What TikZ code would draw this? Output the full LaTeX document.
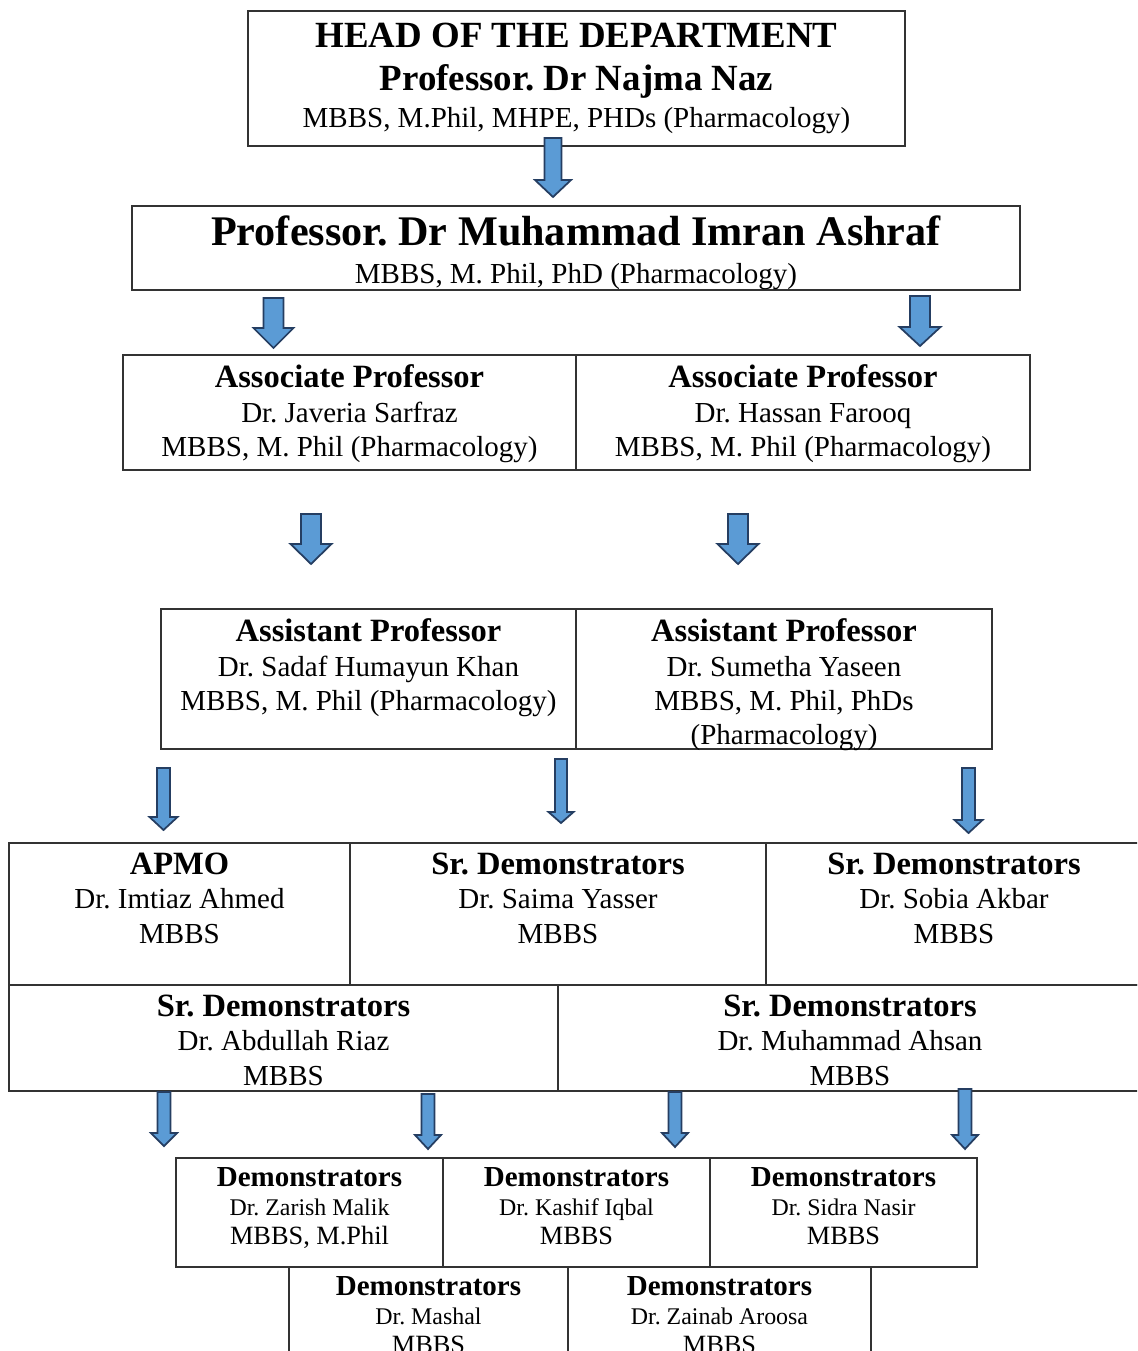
\documentclass[tikz,border=0pt]{standalone}
\usepackage{fontspec}
\setmainfont{Liberation Serif}
\usetikzlibrary{positioning,fit}
\frenchspacing
\definecolor{arrowfill}{RGB}{91,155,213}
\definecolor{arrowline}{RGB}{37,62,98}
\tikzstyle{cell} = [rectangle, draw=black!80, line width=0.7pt, inner sep=0pt]
\tikzstyle{txt} = [align=center, inner sep=0pt, font=\fontsize{16.5}{19.6}\selectfont]
\tikzstyle{smalltxt} = [align=center, inner sep=0pt, font=\fontsize{13.6}{16.4}\selectfont]
\tikzstyle{blockarrow} = [draw=arrowline, fill=arrowfill, line width=1pt, line join=miter]
\tikzset{pics/down/.style n args={4}{code={
  \path[blockarrow] (-#1,0) -- (#1,0) -- (#1,#3) -- (#2,#3) -- (0,#4) -- (-#2,#3) -- (-#1,#3) -- cycle;}}}
\newcommand{\rolehead}[1]{{\fontsize{18.5}{19.6}\selectfont\bfseries #1}}
\newcommand{\demhead}[1]{{\fontsize{16.5}{16.4}\selectfont\bfseries #1}}
\newcommand{\demdeg}[1]{{\fontsize{15}{16.4}\selectfont #1}}

\begin{document}
\begin{tikzpicture}[x=0.02cm, y=-0.02cm]
      \clip (0,0) rectangle (1137,1351);
      \fill[white] (0,0) rectangle (1137,1351);
      % Head of department
      \node [cell, fit={(248,11) (905,146)}] (hod) {};
      \node [txt, font=\fontsize{16.5}{21.5}\selectfont, below=0.24cm of hod.north] (hod-t)
        {{\fontsize{21}{21.5}\selectfont\bfseries HEAD OF THE DEPARTMENT}\\[3pt]
         {\fontsize{21}{21.5}\selectfont\bfseries Professor. Dr Najma Naz}\\
         MBBS, M.Phil, MHPE, PHDs (Pharmacology)};
      % Professor
      \node [cell, fit={(132,206) (1020,290)}] (prof) {};
      \node [txt, font=\fontsize{16.5}{21.8}\selectfont, below=0.2cm of prof.north] (prof-t)
        {{\fontsize{24}{21.8}\selectfont\bfseries Professor. Dr Muhammad Imran Ashraf}\\
         MBBS, M. Phil, PhD (Pharmacology)};
      % Associate professors
      \node [cell, fit={(123,355) (576,470)}] (assoc-a) {};
      \node [cell, fit={(576,355) (1030,470)}] (assoc-b) {};
      \node [txt, below=0.2cm of assoc-a.north] (assoc-a-t)
        {\rolehead{Associate Professor}\\ Dr. Javeria Sarfraz\\ MBBS, M. Phil (Pharmacology)};
      \node [txt, below=0.2cm of assoc-b.north] (assoc-b-t)
        {\rolehead{Associate Professor}\\ Dr. Hassan Farooq\\ MBBS, M. Phil (Pharmacology)};
      % Assistant professors
      \node [cell, fit={(161,609) (576,749)}] (asst-a) {};
      \node [cell, fit={(576,609) (992,749)}] (asst-b) {};
      \node [txt, below=0.2cm of asst-a.north] (asst-a-t)
        {\rolehead{Assistant Professor}\\ Dr. Sadaf Humayun Khan\\ MBBS, M. Phil (Pharmacology)};
      \node [txt, below=0.2cm of asst-b.north] (asst-b-t)
        {\rolehead{Assistant Professor}\\ Dr. Sumetha Yaseen\\ MBBS, M. Phil, PhDs\\ (Pharmacology)};
      % APMO and senior demonstrators
      \node [cell, fit={(9,843) (350,985)}] (apmo) {};
      \node [cell, fit={(350,843) (766,985)}] (srdem-a) {};
      \node [cell, fit={(766,843) (1142,985)}] (srdem-b) {};
      \node [cell, fit={(9,985) (558,1091)}] (srdem-c) {};
      \node [cell, fit={(558,985) (1142,1091)}] (srdem-d) {};
      \node [txt, below=0.2cm of apmo.north] (apmo-t)
        {\rolehead{APMO}\\ Dr. Imtiaz Ahmed\\ MBBS};
      \node [txt, below=0.2cm of srdem-a.north] (srdem-a-t)
        {\rolehead{Sr. Demonstrators}\\ Dr. Saima Yasser\\ MBBS};
      \node [txt, below=0.2cm of srdem-b.north] (srdem-b-t)
        {\rolehead{Sr. Demonstrators}\\ Dr. Sobia Akbar\\ MBBS};
      \node [txt, below=0.2cm of srdem-c.north] (srdem-c-t)
        {\rolehead{Sr. Demonstrators}\\ Dr. Abdullah Riaz\\ MBBS};
      \node [txt, below=0.2cm of srdem-d.north] (srdem-d-t)
        {\rolehead{Sr. Demonstrators}\\ Dr. Muhammad Ahsan\\ MBBS};
      % Demonstrators
      \node [cell, fit={(176,1158) (443,1267)}] (dem-a) {};
      \node [cell, fit={(443,1158) (710,1267)}] (dem-b) {};
      \node [cell, fit={(710,1158) (977,1267)}] (dem-c) {};
      \node [cell, fit={(289,1267) (568,1400)}] (dem-d) {};
      \node [cell, fit={(568,1267) (871,1400)}] (dem-e) {};
      \node [smalltxt, below=0.2cm of dem-a.north] (dem-a-t)
        {\demhead{Demonstrators}\\ Dr. Zarish Malik\\ \demdeg{MBBS, M.Phil}};
      \node [smalltxt, below=0.2cm of dem-b.north] (dem-b-t)
        {\demhead{Demonstrators}\\ Dr. Kashif Iqbal\\ \demdeg{MBBS}};
      \node [smalltxt, below=0.2cm of dem-c.north] (dem-c-t)
        {\demhead{Demonstrators}\\ Dr. Sidra Nasir\\ \demdeg{MBBS}};
      \node [smalltxt, below=0.2cm of dem-d.north] (dem-d-t)
        {\demhead{Demonstrators}\\ Dr. Mashal\\ \demdeg{MBBS}};
      \node [smalltxt, below=0.2cm of dem-e.north] (dem-e-t)
        {\demhead{Demonstrators}\\ Dr. Zainab Aroosa\\ \demdeg{MBBS}};
      % Block arrows
      \pic (arr-hod) at (553,138) {down={8.5}{18}{42}{59}};
      \pic (arr-prof-a) at (273.5,298) {down={10}{20}{30}{50}};
      \pic (arr-prof-b) at (920,296) {down={10}{20.5}{31}{50}};
      \pic (arr-assoc-a) at (311,514) {down={10}{20.5}{30}{50}};
      \pic (arr-assoc-b) at (738,514) {down={10}{20.5}{30}{50}};
      \pic (arr-asst-a) at (163.5,768) {down={6.5}{14}{49}{62}};
      \pic (arr-asst-b) at (561,759) {down={6}{12.5}{53}{64}};
      \pic (arr-asst-c) at (968.5,768) {down={6.5}{14}{52}{65}};
      \pic (arr-sr-a) at (164,1092) {down={6.5}{13}{41}{54}};
      \pic (arr-sr-b) at (428,1094) {down={6.5}{13}{41}{55}};
      \pic (arr-sr-c) at (675,1092) {down={6.5}{13}{41}{55}};
      \pic (arr-sr-d) at (965,1089) {down={6.5}{13}{46}{60}};
\end{tikzpicture}
\end{document}
